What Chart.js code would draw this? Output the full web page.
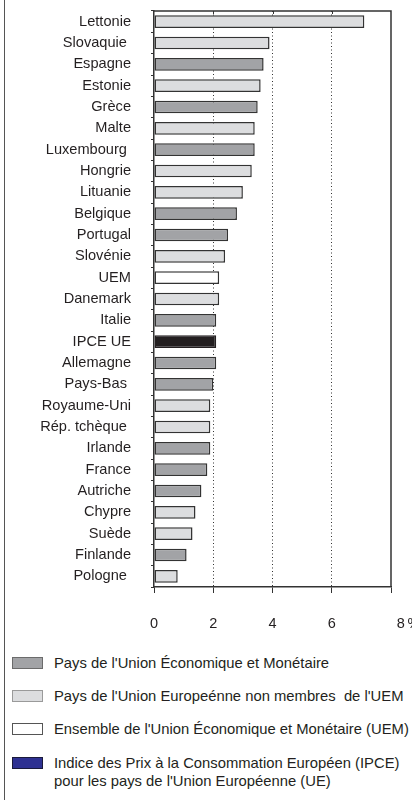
<!DOCTYPE html>
<html><head><meta charset="utf-8">
<script src="https://cdn.jsdelivr.net/npm/chart.js@4/dist/chart.umd.min.js"></script>
<style>
html,body{margin:0;padding:0;background:#fff;}
body{width:412px;height:800px;position:relative;overflow:hidden;font-family:"Liberation Sans",Arial,sans-serif;color:#231f20;}
#frame{position:absolute;left:4px;top:0;width:1px;height:800px;background:#555;}
#wrap{position:absolute;left:0;top:0;width:412px;height:640px;}
.row{position:absolute;left:0;width:412px;font-size:14.8px;line-height:18px;}
.row .box{position:absolute;left:12px;top:3px;width:29px;height:10px;border:1px solid #555;}
.row .txt{position:absolute;left:54px;top:0;white-space:pre;}
</style></head>
<body>
<div id="wrap"><canvas id="c" width="412" height="640"></canvas></div>
<div id="frame"></div>
<div id="legend"></div>
<script>
const categories = ['Lettonie','Slovaquie ','Espagne','Estonie','Grèce','Malte','Luxembourg ','Hongrie','Lituanie','Belgique','Portugal','Slovénie','UEM','Danemark','Italie','IPCE UE','Allemagne','Pays-Bas ','Royaume-Uni','Rép. tchèque ','Irlande','France','Autriche','Chypre','Suède','Finlande','Pologne '];
const values = [7.1,3.9,3.7,3.6,3.5,3.4,3.4,3.3,3.0,2.8,2.5,2.4,2.2,2.2,2.1,2.1,2.1,2.0,1.9,1.9,1.9,1.8,1.6,1.4,1.3,1.1,0.8];
const groups = ['ue','ue','uem','ue','uem','ue','uem','ue','ue','uem','uem','ue','total','ue','uem','ipce','uem','uem','ue','ue','uem','uem','uem','ue','ue','uem','ue'];
const xTicks = [0,2,4,6,8];
const xTickLabels = ['0','2','4','6','        \u20098\u2009%'];
const legendKeys = ['uem','ue','total','ipce'];
const legendLabels = [
  "Pays de l'Union Économique et Monétaire",
  "Pays de l'Union Europeénne non membres  de l'UEM",
  "Ensemble de l'Union Économique et Monétaire (UEM)",
  "Indice des Prix à la Consommation Européen (IPCE)\npour les pays de l'Union Européenne (UE)"
];

const barFill = {uem:'#a2a3a6', ue:'#dcdddf', total:'#ffffff', ipce:'#231f20'};
const legendFill = {uem:'#a2a3a6', ue:'#dcdddf', total:'#ffffff', ipce:'#2e3192'};
const legendBorder = {uem:'#6b6b6b', ue:'#9a9a9a', total:'#555', ipce:'#1a1a3a'};
const FONT = '"Liberation Sans", Arial, sans-serif';

const frame = {
  id:'frame',
  afterDraw(chart){
    const {ctx, chartArea:a, scales} = chart;
    ctx.save();
    ctx.strokeStyle = '#333'; ctx.lineWidth = 1.5;
    ctx.beginPath();
    ctx.moveTo(a.left, a.top); ctx.lineTo(a.right, a.top); ctx.lineTo(a.right, a.bottom);
    ctx.stroke();
    ctx.lineWidth = 1;
    xTicks.slice(1,-1).forEach(v=>{
      const x = Math.round(scales.x.getPixelForValue(v))+0.5;
      ctx.beginPath(); ctx.moveTo(x, a.top); ctx.lineTo(x, a.top+3); ctx.stroke();
    });
    ctx.restore();
  }
};

new Chart(document.getElementById('c'), {
  type:'bar',
  data:{
    labels:categories,
    datasets:[{
      data:values,
      backgroundColor:groups.map(g=>barFill[g]),
      borderColor:groups.map(g=>g==='ipce'?'#231f20':'#333'),
      borderWidth:1.5,
      borderSkipped:false,
      barPercentage:0.59,
      categoryPercentage:1
    }]
  },
  options:{
    indexAxis:'y',
    responsive:false,
    animation:false,
    layout:{padding:{top:11,right:21,bottom:0,left:0}},
    plugins:{legend:{display:false},tooltip:{enabled:false}},
    scales:{
      x:{
        type:'linear', position:'bottom', min:0, max:8,
        afterBuildTicks(s){ s.ticks = xTicks.map(v=>({value:v})); },
        afterFit(s){ s.paddingLeft=0; s.paddingRight=0; s.height=53; },
        ticks:{
          callback:(v)=>xTickLabels[xTicks.indexOf(v)],
          font:{family:FONT, size:14.5},
          color:'#231f20', padding:22, maxRotation:0, autoSkip:false
        },
        grid:{
          color:c=>[2,4,6].includes(c.tick && c.tick.value)?'#333':'rgba(0,0,0,0)',
          lineWidth:1, tickColor:'#333', tickLength:6, drawTicks:true
        },
        border:{display:true,color:'#333',width:1.5,dash:[1,2.5]}
      },
      y:{
        type:'category',
        afterFit(s){ s.width=154; s.paddingTop=0; s.paddingBottom=0; },
        ticks:{
          font:{family:FONT, size:14.6},
          color:'#231f20', padding:20, autoSkip:false
        },
        grid:{drawOnChartArea:false, drawTicks:true, tickLength:3, tickColor:'#333', offset:true},
        border:{display:true,color:'#333',width:1.5}
      }
    }
  },
  plugins:[frame]
});

const rowTops = [654, 687, 720, 754];
const leg = document.getElementById('legend');
legendKeys.forEach((k,i)=>{
  const r = document.createElement('div');
  r.className='row'; r.style.top = rowTops[i]+'px';
  const b = document.createElement('div'); b.className='box';
  b.style.background = legendFill[k]; b.style.borderColor = legendBorder[k];
  const t = document.createElement('div'); t.className='txt'; t.textContent = legendLabels[i];
  r.appendChild(b); r.appendChild(t); leg.appendChild(r);
});
</script>
</body></html>
